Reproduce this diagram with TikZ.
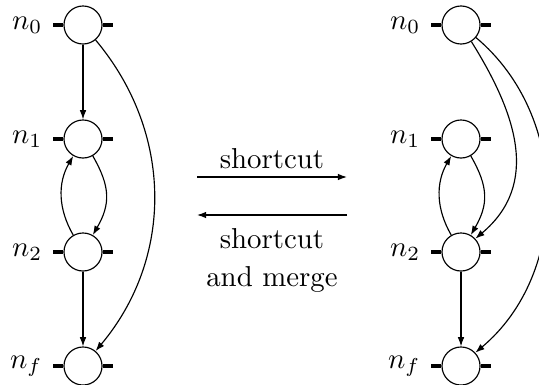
\documentclass[tikz,border=0pt]{standalone}
\usetikzlibrary{arrows.meta}
\begin{document}
\begin{tikzpicture}[x=0.347pt,y=-0.347pt,
  place/.style={circle,draw,minimum size=13.2pt,inner sep=0pt,
    label={[label distance=3.8pt]left:#1}},
  stub/.style={line width=1.6pt},
  arr/.style={-{Latex[length=3.2pt,width=2.3pt]}},
  lbl/.style={align=center,inner sep=0pt}]
\useasboundingbox (0,0) rectangle (539,384);
% left column
\node[place=$n_0$] (L0) at (83,25) {};
\node[place=$n_1$] (L1) at (83,139) {};
\node[place=$n_2$] (L2) at (83,252) {};
\node[place=$n_f$] (Lf) at (83,366) {};
% right column
\node[place=$n_0$] (R0) at (461,25) {};
\node[place=$n_1$] (R1) at (461,139) {};
\node[place=$n_2$] (R2) at (461,252) {};
\node[place=$n_f$] (Rf) at (461,366) {};
% stubs
\foreach \n in {L0,L1,L2,Lf,R0,R1,R2,Rf}{
  \draw[stub] (\n.west) -- ++(-10,0);
  \draw[stub] (\n.east) -- ++(10,0);
}
% left edges
\draw[arr] (L0) -- (L1);
\draw[arr] (L1.-60) to[out=-60,in=60,looseness=1.15] (L2.60);
\draw[arr] (L2.120) to[out=120,in=-120] (L1.-120);
\draw[arr] (L2) -- (Lf);
\draw[arr] (L0.-50) to[out=-50,in=50] (Lf.50);
% right edges
\draw[arr] (R1.-60) to[out=-60,in=60,looseness=1.15] (R2.60);
\draw[arr] (R2.120) to[out=120,in=-120] (R1.-120);
\draw[arr] (R2) -- (Rf);
\draw[arr] (R0.-58) to[out=-58,in=40,looseness=1.1] (R2.43);
\draw[arr] (R0.-40) to[out=-40,in=40] (Rf.43);
% middle
\coordinate (a1) at (197,177);
\coordinate (a2) at (347,177);
\coordinate (b1) at (347,215);
\coordinate (b2) at (197,215);
\draw[arr] (a1) -- (a2);
\draw[arr] (b1) -- (b2);
\node[lbl] (t1) at (272,159) {shortcut};
\node[lbl] (t2) at (272,260.5) {shortcut\\[1.5pt]and merge};
\end{tikzpicture}
\end{document}
